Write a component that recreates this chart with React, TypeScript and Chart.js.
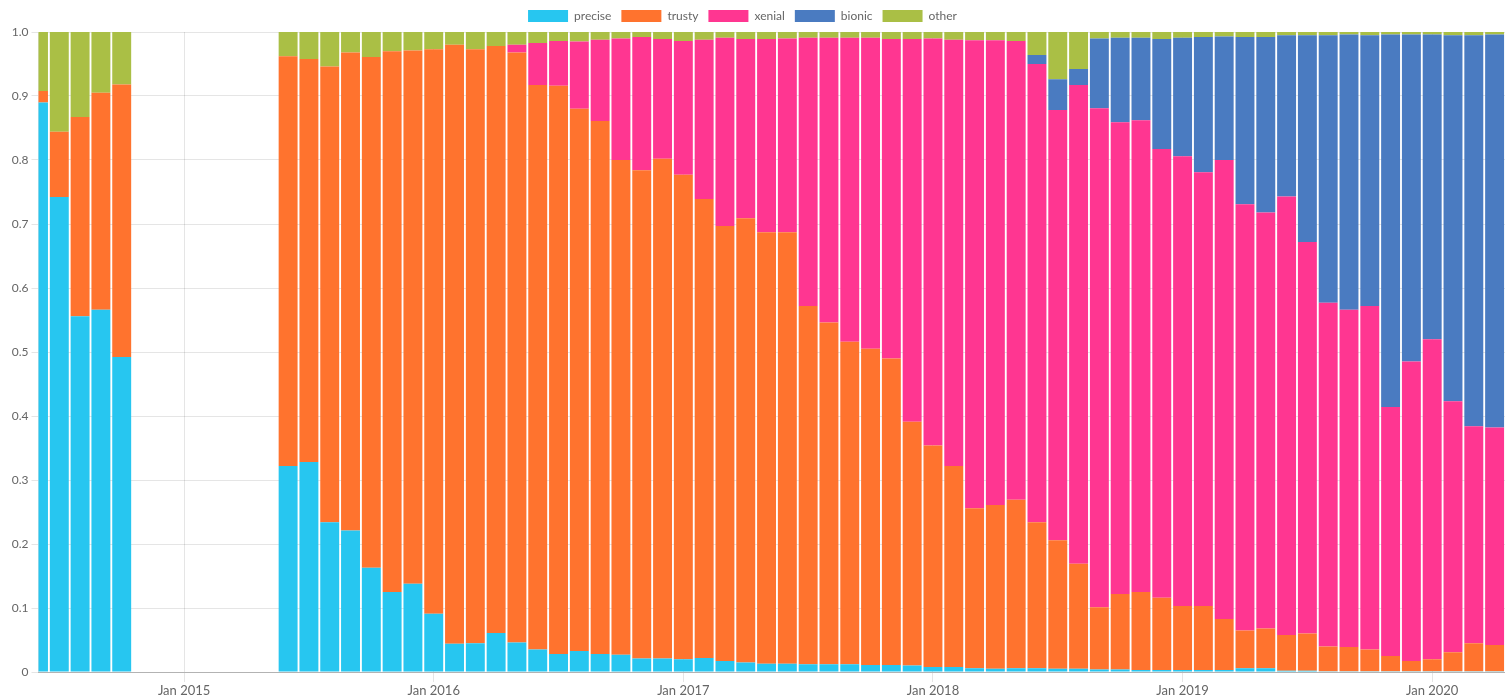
import React, { useEffect, useRef } from "react";
import { Chart, registerables } from "chart.js";

Chart.register(...registerables);

const months = [
  "2014-06", "2014-07", "2014-08", "2014-09", "2014-10",
  "2015-06", "2015-07", "2015-08", "2015-09", "2015-10", "2015-11", "2015-12",
  "2016-01", "2016-02", "2016-03", "2016-04", "2016-05", "2016-06", "2016-07", "2016-08", "2016-09", "2016-10", "2016-11", "2016-12",
  "2017-01", "2017-02", "2017-03", "2017-04", "2017-05", "2017-06", "2017-07", "2017-08", "2017-09", "2017-10", "2017-11", "2017-12",
  "2018-01", "2018-02", "2018-03", "2018-04", "2018-05", "2018-06", "2018-07", "2018-08", "2018-09", "2018-10", "2018-11", "2018-12",
  "2019-01", "2019-02", "2019-03", "2019-04", "2019-05", "2019-06", "2019-07", "2019-08", "2019-09", "2019-10", "2019-11", "2019-12",
  "2020-01", "2020-02", "2020-03", "2020-04",
];

const precise = [
  0.890, 0.742, 0.556, 0.566, 0.492,
  0.322, 0.328, 0.234, 0.221, 0.163, 0.125, 0.138,
  0.091, 0.044, 0.045, 0.061, 0.046, 0.035, 0.028, 0.033, 0.028, 0.027, 0.021, 0.021,
  0.020, 0.022, 0.017, 0.015, 0.013, 0.013, 0.012, 0.012, 0.012, 0.011, 0.011, 0.010,
  0.008, 0.008, 0.006, 0.005, 0.006, 0.006, 0.005, 0.005, 0.004, 0.004, 0.003, 0.003,
  0.003, 0.003, 0.003, 0.006, 0.006, 0.002, 0.002, 0.001, 0.001, 0.001, 0.001, 0.001,
  0.001, 0.001, 0.001, 0.001,
];

const trusty = [
  0.018, 0.102, 0.311, 0.339, 0.426,
  0.640, 0.630, 0.712, 0.747, 0.798, 0.845, 0.833,
  0.882, 0.936, 0.928, 0.917, 0.922, 0.882, 0.888, 0.847, 0.833, 0.773, 0.763, 0.781,
  0.757, 0.717, 0.680, 0.694, 0.674, 0.674, 0.560, 0.534, 0.504, 0.494, 0.479, 0.381,
  0.346, 0.314, 0.250, 0.256, 0.263, 0.228, 0.201, 0.164, 0.097, 0.118, 0.122, 0.113,
  0.100, 0.100, 0.080, 0.059, 0.062, 0.056, 0.058, 0.039, 0.038, 0.034, 0.024, 0.016,
  0.019, 0.030, 0.044, 0.041,
];

const xenial = [
  0, 0, 0, 0, 0,
  0, 0, 0, 0, 0, 0, 0,
  0, 0, 0, 0, 0.012, 0.066, 0.070, 0.105, 0.127, 0.190, 0.208, 0.187,
  0.209, 0.249, 0.294, 0.280, 0.302, 0.303, 0.419, 0.445, 0.475, 0.486, 0.499, 0.598,
  0.636, 0.666, 0.731, 0.726, 0.717, 0.716, 0.672, 0.748, 0.780, 0.737, 0.737, 0.701,
  0.703, 0.678, 0.717, 0.666, 0.650, 0.685, 0.612, 0.537, 0.527, 0.537, 0.389, 0.468,
  0.500, 0.392, 0.339, 0.340,
];

const bionic = [
  0, 0, 0, 0, 0,
  0, 0, 0, 0, 0, 0, 0,
  0, 0, 0, 0, 0, 0, 0, 0, 0, 0, 0, 0,
  0, 0, 0, 0, 0, 0, 0, 0, 0, 0, 0, 0,
  0, 0, 0, 0, 0, 0.014, 0.048, 0.025, 0.109, 0.132, 0.129, 0.172,
  0.185, 0.211, 0.193, 0.261, 0.274, 0.252, 0.323, 0.418, 0.430, 0.423, 0.582, 0.511,
  0.476, 0.572, 0.611, 0.614,
];

const other = [
  0.092, 0.156, 0.133, 0.095, 0.082,
  0.038, 0.042, 0.054, 0.032, 0.039, 0.030, 0.029,
  0.027, 0.020, 0.027, 0.022, 0.020, 0.017, 0.014, 0.015, 0.012, 0.010, 0.008, 0.011,
  0.014, 0.012, 0.009, 0.011, 0.011, 0.010, 0.009, 0.009, 0.009, 0.009, 0.011, 0.011,
  0.010, 0.012, 0.013, 0.013, 0.014, 0.036, 0.074, 0.058, 0.010, 0.009, 0.009, 0.011,
  0.009, 0.008, 0.007, 0.008, 0.008, 0.005, 0.005, 0.005, 0.004, 0.005, 0.004, 0.004,
  0.004, 0.005, 0.005, 0.004,
];

const seriesNames = ["precise", "trusty", "xenial", "bionic", "other"];
const seriesColors = ["#27C6F0", "#FF732E", "#FF3691", "#4A7BC1", "#AABF45"];
const yearTicks = [2015, 2016, 2017, 2018, 2019, 2020];
const yTickValues = [0, 0.1, 0.2, 0.3, 0.4, 0.5, 0.6, 0.7, 0.8, 0.9, 1.0];

const BASE_YEAR = 2014;
const monthIndex = (m: string) => {
  const [y, mo] = m.split("-").map(Number);
  return (y - BASE_YEAR) * 12 + (mo - 1);
};
const yearIndex = (y: number) => (y - BASE_YEAR) * 12;

const FONT = "Lato, 'Open Sans', sans-serif";

export default function App() {
  const ref = useRef<HTMLCanvasElement | null>(null);

  useEffect(() => {
    if (!ref.current) return;
    const all = [precise, trusty, xenial, bionic, other];
    const datasets = all.map((vals, si) => ({
      label: seriesNames[si],
      data: months.map((m, i) => ({ x: monthIndex(m), y: vals[i] })),
      backgroundColor: seriesColors[si],
      borderWidth: 0,
      categoryPercentage: 1,
      barPercentage: 0.91,
      clip: 0,
    }));

    const chart = new Chart(ref.current, {
      type: "bar",
      data: { datasets },
      options: {
        animation: false,
        responsive: false,
        devicePixelRatio: 1,
        layout: { padding: 0 },
        plugins: {
          legend: {
            position: "top",
            labels: {
              boxWidth: 40,
              boxHeight: 12,
              padding: 10,
              color: "#666",
              font: { family: FONT, size: 12 },
            },
          },
          tooltip: { enabled: false },
        },
        scales: {
          x: {
            type: "linear",
            stacked: true,
            offset: false,
            min: monthIndex(months[0]),
            max: monthIndex(months[months.length - 1]) + 0.5,
            afterBuildTicks: (scale: any) => {
              scale.ticks = yearTicks.map((y) => ({ value: yearIndex(y) }));
            },
            afterFit: (scale: any) => {
              scale.height = 28;
            },
            ticks: {
              autoSkip: false,
              maxRotation: 0,
              padding: 1,
              color: "#666",
              font: { family: FONT, size: 13 },
              callback: (v: any) => "Jan " + (BASE_YEAR + Math.round(Number(v) / 12)),
            },
            grid: {
              offset: false,
              color: "rgba(0,0,0,0.1)",
              tickLength: 10,
            },
            border: { color: "rgba(0,0,0,0.22)" },
          },
          y: {
            stacked: true,
            min: 0,
            max: 1,
            afterBuildTicks: (scale: any) => {
              scale.ticks = yTickValues.map((v) => ({ value: v }));
            },
            afterFit: (scale: any) => {
              scale.width = 58.5;
            },
            ticks: {
              padding: 3,
              color: "#666",
              font: { family: FONT, size: 12 },
              callback: (v: any) => (Number(v) === 0 ? "0" : Number(v).toFixed(1)),
            },
            grid: {
              color: "rgba(0,0,0,0.1)",
              tickLength: 7,
            },
            border: { color: "rgba(0,0,0,0.1)" },
          },
        },
      },
    } as any);

    return () => chart.destroy();
  }, []);

  return (
    <div
      style={{
        position: "absolute",
        left: 0,
        top: 0,
        width: 1505,
        height: 696,
        overflow: "hidden",
        background: "#fff",
      }}
    >
      <canvas
        ref={ref}
        width={1525}
        height={700}
        style={{ position: "absolute", left: -20, top: 0, width: 1525, height: 700 }}
      />
    </div>
  );
}
